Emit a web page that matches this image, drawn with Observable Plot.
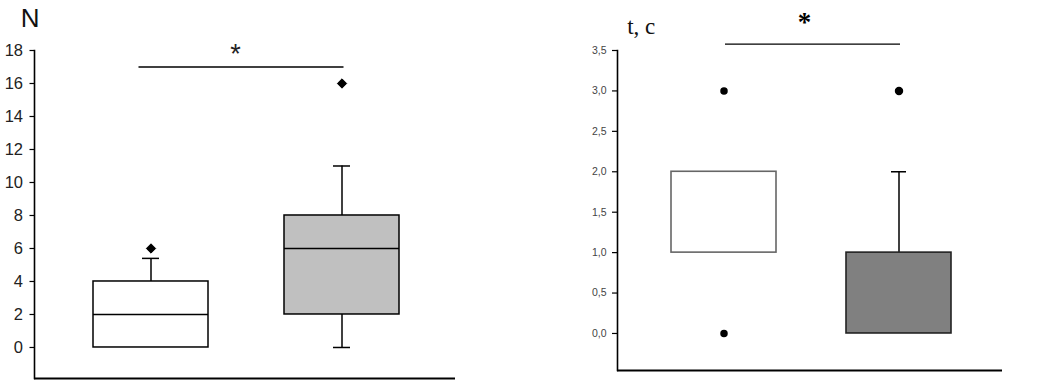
<!DOCTYPE html>
<html>
<head>
<meta charset="utf-8">
<script src="https://cdn.jsdelivr.net/npm/d3@7"></script>
<script src="https://cdn.jsdelivr.net/npm/@observablehq/plot@0.6"></script>
<style>
  html, body { margin: 0; padding: 0; background: #fff; }
  #wrap { position: relative; width: 1042px; height: 384px; overflow: hidden; }
  #left { position: absolute; left: 0; top: 0; }
  #right { position: absolute; left: 560px; top: 0; }
</style>
</head>
<body>
<div id="wrap"><div id="left"></div><div id="right"></div></div>
<script>
// ---- Left panel: N ----
const groupsN = ["Группа 1", "Группа 2"];
const q1N = [0, 2];
const medianN = [2, 6];
const q3N = [4, 8];
const whiskerLowN = [null, 0];
const whiskerHighN = [5.4, 11];
const outlierGroupN = ["Группа 1", "Группа 2"];
const outlierValueN = [6, 16];
const fillN = ["#ffffff", "#c0c0c0"];
const ticksN = [0, 2, 4, 6, 8, 10, 12, 14, 16, 18];
const sigN = 17;

// ---- Right panel: t, c ----
const groupsT = ["Группа 1", "Группа 2"];
const q1T = [1, 0];
const q3T = [2, 1];
const whiskerLowT = [null, null];
const whiskerHighT = [null, 2];
const outlierGroupT = ["Группа 1", "Группа 1", "Группа 2"];
const outlierValueT = [3, 0, 3];
const outlierSizeT = [3, 3, 4];
const fillT = ["#ffffff", "#808080"];
const strokeT = ["#666666", "#222222"];
const ticksT = [0, 0.5, 1, 1.5, 2, 2.5, 3, 3.5];
const sigT = 3.58;

const boxesN = groupsN.map((g, i) => ({g, q1: q1N[i], med: medianN[i], q3: q3N[i], lo: whiskerLowN[i], hi: whiskerHighN[i], fill: fillN[i]}));
const outN = outlierGroupN.map((g, i) => ({g, v: outlierValueN[i]}));
const sigRowN = [{a: groupsN[0], b: groupsN[1], y: sigN}];
const boxesT = groupsT.map((g, i) => ({g, q1: q1T[i], q3: q3T[i], lo: whiskerLowT[i], hi: whiskerHighT[i], fill: fillT[i], stroke: strokeT[i]}));
const outT = outlierGroupT.map((g, i) => ({g, v: outlierValueT[i], r: outlierSizeT[i]}));
const sigRowT = [{a: groupsT[0], b: groupsT[1], y: sigT}];

const yMinN = -1.88;
const left = Plot.plot({
  width: 480, height: 384,
  marginTop: 50, marginBottom: 6, marginLeft: 34, marginRight: 25,
  style: {fontFamily: "'Liberation Sans', Arial, sans-serif", background: "#fff"},
  x: {type: "band", domain: groupsN, range: [92.5, 398.5], paddingInner: 0.4, paddingOuter: 0, axis: null},
  y: {domain: [yMinN, 18], axis: null},
  marks: [
    Plot.axisY({ticks: ticksN, tickSize: 4.5, tickPadding: 7, fontSize: 16.5, label: null, stroke: "#000", fill: "#222", strokeWidth: 1.2}),
    Plot.frame({anchor: "left", stroke: "#000", strokeWidth: 1.6}),
    Plot.ruleY([yMinN], {stroke: "#000", strokeWidth: 2}),
    Plot.ruleX(boxesN.filter(d => d.hi != null), {x: "g", y1: "q3", y2: "hi", stroke: "#000", strokeWidth: 1.5}),
    Plot.tickY(boxesN.filter(d => d.hi != null), {x: "g", y: "hi", insetLeft: 49, insetRight: 49, stroke: "#000", strokeWidth: 1.5}),
    Plot.ruleX(boxesN.filter(d => d.lo != null), {x: "g", y1: "lo", y2: "q1", stroke: "#000", strokeWidth: 1.5}),
    Plot.tickY(boxesN.filter(d => d.lo != null), {x: "g", y: "lo", insetLeft: 49, insetRight: 49, stroke: "#000", strokeWidth: 1.5}),
    Plot.barY(boxesN, {x: "g", y1: "q1", y2: "q3", fill: "fill", stroke: "#000", strokeWidth: 1.5}),
    Plot.tickY(boxesN, {x: "g", y: "med", stroke: "#000", strokeWidth: 1.3}),
    Plot.dot(outN, {x: "g", y: "v", symbol: "diamond2", r: 4.2, fill: "#000", stroke: "#000", strokeWidth: 1}),
    Plot.ruleY(sigRowN, {x1: "a", x2: "b", y: "y", insetLeft: 45.5, insetRight: 55.5, stroke: "#000", strokeWidth: 1.5}),
    Plot.text(["*"], {text: d => d, frameAnchor: "top-left", dx: 201, dy: 12, lineAnchor: "bottom", textAnchor: "middle", fontSize: 27, fill: "#222"}),
    Plot.text(["N"], {text: d => d, frameAnchor: "top-left", dx: -4.3, dy: -23.3, lineAnchor: "bottom", textAnchor: "middle", fontSize: 26, fill: "#111"})
  ]
});
document.getElementById("left").appendChild(left);

const yMinT = -0.458;
const right = Plot.plot({
  width: 482, height: 384,
  marginTop: 50, marginBottom: 14, marginLeft: 57, marginRight: 40,
  style: {fontFamily: "'Liberation Sans', Arial, sans-serif", background: "#fff"},
  x: {type: "band", domain: groupsT, range: [110, 391], paddingInner: 0.4, paddingOuter: 0, axis: null},
  y: {domain: [yMinT, 3.5], axis: null},
  marks: [
    Plot.axisY({ticks: ticksT, tickFormat: d => d.toFixed(1).replace(".", ","), tickSize: 5, tickPadding: 6, fontSize: 10.5, label: null, stroke: "#000", fill: "#444", strokeWidth: 1.2}),
    Plot.frame({anchor: "left", stroke: "#000", strokeWidth: 1.6}),
    Plot.ruleY([yMinT], {stroke: "#000", strokeWidth: 2}),
    Plot.ruleX(boxesT.filter(d => d.hi != null), {x: "g", y1: "q3", y2: "hi", stroke: "#000", strokeWidth: 1.5}),
    Plot.tickY(boxesT.filter(d => d.hi != null), {x: "g", y: "hi", insetLeft: 45, insetRight: 45, stroke: "#000", strokeWidth: 1.5}),
    Plot.barY(boxesT, {x: "g", y1: "q1", y2: "q3", fill: "fill", stroke: "stroke", strokeWidth: 1.6}),
    Plot.dot(outT, {x: "g", y: "v", r: "r", fill: "#000", stroke: "#000"}),
    Plot.ruleY(sigRowT, {x1: "a", x2: "b", y: "y", insetLeft: 54, insetRight: 51, stroke: "#000", strokeWidth: 1.3}),
    Plot.text(["*"], {text: d => d, frameAnchor: "top-left", dx: 187, dy: -19.5, lineAnchor: "bottom", textAnchor: "middle", fontSize: 27, fontWeight: "bold", fontFamily: "'Liberation Serif', 'Times New Roman', serif", fill: "#000"}),
    Plot.text(["t, c"], {text: d => d, frameAnchor: "top-left", dx: 9.7, dy: -17, lineAnchor: "bottom", textAnchor: "start", fontSize: 23, fontFamily: "'Liberation Serif', 'Times New Roman', serif", fill: "#111"})
  ]
});
document.getElementById("right").appendChild(right);
</script>
</body>
</html>
